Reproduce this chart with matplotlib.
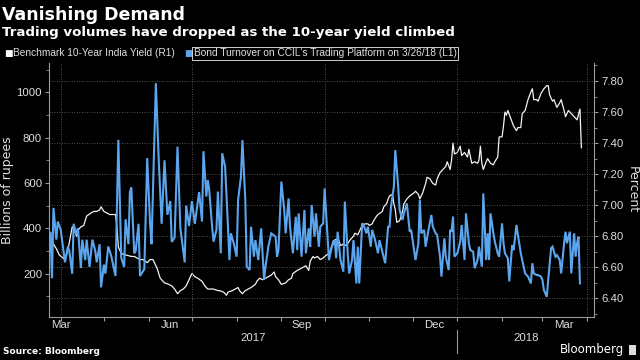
import pandas as pd
import matplotlib.pyplot as plt
import matplotlib.dates as mdates
from matplotlib.ticker import MultipleLocator, NullFormatter, FormatStrFormatter
from matplotlib.transforms import blended_transform_factory
from matplotlib.patches import Rectangle

# bond turnover on CCIL platform, billions of rupees (left axis)
turnover_dates = [
    "2017-03-25", "2017-03-26", "2017-03-27", "2017-03-29", "2017-03-30", "2017-04-01", "2017-04-04",
    "2017-04-06", "2017-04-07", "2017-04-09", "2017-04-10", "2017-04-12", "2017-04-13", "2017-04-15",
    "2017-04-16", "2017-04-18", "2017-04-19", "2017-04-21", "2017-04-23", "2017-04-25", "2017-04-26",
    "2017-04-28", "2017-04-29", "2017-05-01", "2017-05-02", "2017-05-04", "2017-05-06", "2017-05-09",
    "2017-05-11", "2017-05-13", "2017-05-15", "2017-05-16", "2017-05-18", "2017-05-19", "2017-05-20",
    "2017-05-22", "2017-05-23", "2017-05-25", "2017-05-26", "2017-05-29", "2017-05-31", "2017-06-02",
    "2017-06-03", "2017-06-06", "2017-06-08", "2017-06-10", "2017-06-12", "2017-06-14", "2017-06-16",
    "2017-06-17", "2017-06-19", "2017-06-21", "2017-06-23", "2017-06-26", "2017-06-27", "2017-06-29",
    "2017-07-01", "2017-07-03", "2017-07-06", "2017-07-08", "2017-07-09", "2017-07-11", "2017-07-12",
    "2017-07-13", "2017-07-15", "2017-07-16", "2017-07-18", "2017-07-19", "2017-07-21", "2017-07-22",
    "2017-07-24", "2017-07-26", "2017-07-27", "2017-07-28", "2017-07-30", "2017-08-01", "2017-08-02",
    "2017-08-04", "2017-08-05", "2017-08-07", "2017-08-08", "2017-08-10", "2017-08-11", "2017-08-13",
    "2017-08-14", "2017-08-16", "2017-08-18", "2017-08-20", "2017-08-21", "2017-08-23", "2017-08-25",
    "2017-08-28", "2017-08-29", "2017-08-30", "2017-09-01", "2017-09-03", "2017-09-04", "2017-09-06",
    "2017-09-07", "2017-09-09", "2017-09-11", "2017-09-12", "2017-09-13", "2017-09-15", "2017-09-17",
    "2017-09-18", "2017-09-20", "2017-09-21", "2017-09-22", "2017-09-24", "2017-09-25", "2017-09-27",
    "2017-09-28", "2017-09-30", "2017-10-01", "2017-10-03", "2017-10-04", "2017-10-06", "2017-10-08",
    "2017-10-09", "2017-10-10", "2017-10-12", "2017-10-14", "2017-10-15", "2017-10-17", "2017-10-18",
    "2017-10-20", "2017-10-21", "2017-10-23", "2017-10-24", "2017-10-25", "2017-10-27", "2017-10-28",
    "2017-10-30", "2017-10-31", "2017-11-02", "2017-11-03", "2017-11-05", "2017-11-07", "2017-11-08",
    "2017-11-10", "2017-11-12", "2017-11-14", "2017-11-15", "2017-11-16", "2017-11-18", "2017-11-19",
    "2017-11-21", "2017-11-22", "2017-11-24", "2017-11-25", "2017-11-27", "2017-11-29", "2017-11-30",
    "2017-12-03", "2017-12-05", "2017-12-06", "2017-12-07", "2017-12-09", "2017-12-10", "2017-12-12",
    "2017-12-14", "2017-12-15", "2017-12-17", "2017-12-18", "2017-12-20", "2017-12-21", "2017-12-23",
    "2017-12-24", "2017-12-26", "2017-12-27", "2017-12-28", "2017-12-29", "2017-12-30", "2018-01-01",
    "2018-01-03", "2018-01-04", "2018-01-06", "2018-01-07", "2018-01-09", "2018-01-10", "2018-01-12",
    "2018-01-13", "2018-01-15", "2018-01-16", "2018-01-18", "2018-01-19", "2018-01-21", "2018-01-22",
    "2018-01-23", "2018-01-24", "2018-01-26", "2018-01-27", "2018-01-29", "2018-01-30", "2018-02-01",
    "2018-02-02", "2018-02-03", "2018-02-05", "2018-02-06", "2018-02-08", "2018-02-09", "2018-02-11",
    "2018-02-12", "2018-02-14", "2018-02-15", "2018-02-17", "2018-02-19", "2018-02-21", "2018-02-22",
    "2018-02-23", "2018-02-25", "2018-02-26", "2018-02-28", "2018-03-01", "2018-03-02", "2018-03-04",
    "2018-03-05", "2018-03-07", "2018-03-08", "2018-03-10", "2018-03-11", "2018-03-13", "2018-03-14",
    "2018-03-16", "2018-03-17", "2018-03-18", "2018-03-20", "2018-03-21", "2018-03-23", "2018-03-24",
    "2018-03-25", "2018-03-26", "2018-03-27",
]
turnover_bn = [
    380, 180, 490, 350, 430, 395, 250,
    320, 300, 200, 420, 370, 400, 225,
    350, 260, 350, 230, 350, 300, 250,
    330, 140, 240, 200, 320, 280, 190,
    790, 270, 230, 440, 330, 560, 580,
    290, 300, 420, 190, 220, 710, 420,
    330, 1040, 700, 420, 700, 460, 520,
    340, 360, 760, 400, 250, 500, 410,
    520, 420, 560, 430, 740, 540, 613,
    569, 407, 341, 393, 562, 290, 731,
    672, 407, 260, 378, 334, 275, 525,
    628, 789, 525, 231, 216, 407, 275,
    348, 260, 400, 172, 231, 319, 378,
    363, 275, 304, 606, 481, 378, 532,
    407, 290, 451, 304, 466, 275, 481,
    290, 400, 319, 503, 363, 466, 319,
    407, 422, 576, 363, 260, 319, 348,
    268, 385, 260, 209, 518, 290, 201,
    260, 348, 157, 319, 157, 422, 415,
    378, 407, 319, 393, 348, 290, 348,
    297, 246, 407, 407, 495, 584, 745,
    584, 481, 437, 466, 510, 385, 393,
    260, 334, 525, 378, 393, 319, 393,
    459, 407, 378, 371, 275, 187, 356,
    275, 216, 393, 385, 451, 275, 290,
    341, 415, 260, 466, 334, 304, 297,
    224, 260, 319, 231, 554, 260, 378,
    260, 466, 378, 341, 290, 275, 422,
    334, 290, 268, 166, 326, 304, 415,
    371, 290, 260, 201, 187, 157, 246,
    201, 194, 194, 187, 172, 128, 98,
    172, 312, 319, 275, 282, 260, 201,
    334, 385, 334, 385, 201, 378, 275,
    334, 363, 157,
]

# benchmark 10-year India yield, percent (right axis)
yield_dates = [
    "2017-03-25", "2017-03-27", "2017-03-29", "2017-03-31", "2017-04-04", "2017-04-06", "2017-04-09",
    "2017-04-10", "2017-04-12", "2017-04-13", "2017-04-15", "2017-04-17", "2017-04-19", "2017-04-22",
    "2017-04-24", "2017-04-26", "2017-04-28", "2017-04-29", "2017-05-01", "2017-05-03", "2017-05-05",
    "2017-05-07", "2017-05-09", "2017-05-10", "2017-05-11", "2017-05-13", "2017-05-16", "2017-05-20",
    "2017-05-22", "2017-05-26", "2017-05-28", "2017-05-31", "2017-06-02", "2017-06-04", "2017-06-07",
    "2017-06-09", "2017-06-12", "2017-06-15", "2017-06-17", "2017-06-19", "2017-06-21", "2017-06-23",
    "2017-06-25", "2017-06-27", "2017-06-29", "2017-07-01", "2017-07-03", "2017-07-05", "2017-07-08",
    "2017-07-10", "2017-07-12", "2017-07-16", "2017-07-19", "2017-07-20", "2017-07-23", "2017-07-25",
    "2017-07-26", "2017-07-29", "2017-07-31", "2017-08-02", "2017-08-03", "2017-08-05", "2017-08-07",
    "2017-08-09", "2017-08-11", "2017-08-14", "2017-08-15", "2017-08-17", "2017-08-19", "2017-08-21",
    "2017-08-23", "2017-08-25", "2017-08-27", "2017-08-28", "2017-08-30", "2017-09-01", "2017-09-04",
    "2017-09-06", "2017-09-08", "2017-09-09", "2017-09-12", "2017-09-14", "2017-09-16", "2017-09-18",
    "2017-09-20", "2017-09-21", "2017-09-23", "2017-09-24", "2017-09-26", "2017-09-28", "2017-09-30",
    "2017-10-01", "2017-10-04", "2017-10-05", "2017-10-07", "2017-10-09", "2017-10-11", "2017-10-12",
    "2017-10-14", "2017-10-16", "2017-10-19", "2017-10-21", "2017-10-22", "2017-10-24", "2017-10-26",
    "2017-10-27", "2017-10-29", "2017-10-31", "2017-11-01", "2017-11-03", "2017-11-04", "2017-11-06",
    "2017-11-07", "2017-11-10", "2017-11-11", "2017-11-13", "2017-11-14", "2017-11-15", "2017-11-17",
    "2017-11-18", "2017-11-19", "2017-11-20", "2017-11-22", "2017-11-24", "2017-11-25", "2017-11-27",
    "2017-11-29", "2017-12-02", "2017-12-03", "2017-12-05", "2017-12-06", "2017-12-08", "2017-12-10",
    "2017-12-11", "2017-12-13", "2017-12-15", "2017-12-17", "2017-12-18", "2017-12-20", "2017-12-22",
    "2017-12-24", "2017-12-25", "2017-12-27", "2017-12-28", "2017-12-29", "2017-12-30", "2018-01-01",
    "2018-01-03", "2018-01-04", "2018-01-06", "2018-01-08", "2018-01-09", "2018-01-11", "2018-01-13",
    "2018-01-15", "2018-01-16", "2018-01-17", "2018-01-18", "2018-01-19", "2018-01-21", "2018-01-22",
    "2018-01-24", "2018-01-26", "2018-01-27", "2018-01-29", "2018-01-30", "2018-02-01", "2018-02-02",
    "2018-02-03", "2018-02-04", "2018-02-05", "2018-02-07", "2018-02-09", "2018-02-11", "2018-02-12",
    "2018-02-14", "2018-02-15", "2018-02-17", "2018-02-19", "2018-02-21", "2018-02-22", "2018-02-23",
    "2018-02-25", "2018-02-26", "2018-02-28", "2018-03-02", "2018-03-04", "2018-03-05", "2018-03-06",
    "2018-03-08", "2018-03-09", "2018-03-11", "2018-03-13", "2018-03-14", "2018-03-16", "2018-03-17",
    "2018-03-19", "2018-03-21", "2018-03-22", "2018-03-24", "2018-03-25", "2018-03-27", "2018-03-28",
]
yield_pct = [
    6.71, 6.75, 6.72, 6.68, 6.65, 6.71, 6.86,
    6.85, 6.80, 6.84, 6.86, 6.87, 6.93, 6.95,
    6.96, 6.96, 6.97, 6.99, 6.96, 6.95, 6.94,
    6.94, 6.94, 6.86, 6.73, 6.69, 6.68, 6.67,
    6.67, 6.65, 6.65, 6.63, 6.65, 6.65, 6.59,
    6.53, 6.50, 6.49, 6.48, 6.46, 6.43, 6.45,
    6.46, 6.48, 6.52, 6.56, 6.54, 6.53, 6.51,
    6.48, 6.46, 6.46, 6.45, 6.45, 6.44, 6.42,
    6.44, 6.45, 6.46, 6.47, 6.45, 6.43, 6.45,
    6.46, 6.47, 6.49, 6.51, 6.53, 6.52, 6.53,
    6.54, 6.55, 6.57, 6.54, 6.52, 6.49, 6.50,
    6.52, 6.53, 6.56, 6.58, 6.59, 6.60, 6.61,
    6.58, 6.64, 6.67, 6.66, 6.67, 6.65, 6.66,
    6.67, 6.69, 6.71, 6.77, 6.78, 6.77, 6.74,
    6.75, 6.74, 6.78, 6.80, 6.82, 6.81, 6.85,
    6.87, 6.88, 6.88, 6.87, 6.88, 6.90, 6.93,
    6.94, 6.96, 6.99, 7.01, 7.04, 7.06, 7.07,
    7.01, 6.97, 6.89, 6.90, 6.96, 7.01, 7.04,
    7.06, 7.08, 7.09, 7.07, 7.04, 7.08, 7.14,
    7.18, 7.17, 7.14, 7.13, 7.17, 7.21, 7.23,
    7.25, 7.28, 7.23, 7.29, 7.40, 7.33, 7.34,
    7.38, 7.32, 7.34, 7.31, 7.36, 7.27, 7.28,
    7.27, 7.29, 7.38, 7.27, 7.23, 7.28, 7.30,
    7.27, 7.26, 7.28, 7.31, 7.44, 7.44, 7.51,
    7.60, 7.58, 7.61, 7.56, 7.51, 7.48, 7.50,
    7.50, 7.59, 7.61, 7.68, 7.73, 7.75, 7.68,
    7.68, 7.67, 7.72, 7.75, 7.77, 7.77, 7.71,
    7.67, 7.68, 7.63, 7.66, 7.68, 7.61, 7.57,
    7.61, 7.59, 7.58, 7.56, 7.55, 7.62, 7.37,
]

month_labels = ["Mar", "Jun", "Sep", "Dec", "Mar"]
month_label_dates = ["2017-04-01", "2017-06-16", "2017-09-15", "2017-12-16", "2018-03-16"]
year_labels = ["2017", "2018"]
quarter_starts = ["2017-04-01", "2017-07-01", "2017-10-01", "2018-01-01", "2018-04-01"]

BG = "black"
BLUE = "#5aa5ee"
WHITE = "#f2f2f2"
GRID = "#6a6a6a"
AXC = "#9a9a9a"
TXT = "#dedede"
narrow = ["Liberation Sans", "DejaVu Sans"]
dotted = (0, (1, 2))

fig = plt.figure(figsize=(6.4, 3.6), dpi=100, facecolor=BG)
ax = fig.add_axes([49 / 640, 43 / 360, 545 / 640, 254 / 360])
ax2 = ax.twinx()
ax.set_zorder(ax2.get_zorder() + 1)
ax.patch.set_visible(False)
ax2.patch.set_visible(False)

ax2.plot(pd.to_datetime(yield_dates), yield_pct, color=WHITE, lw=0.9)
ax.plot(pd.to_datetime(turnover_dates), turnover_bn, color=BLUE, lw=1.5, solid_joinstyle="miter")

x0 = pd.Timestamp("2017-03-23 22:00")
x1 = pd.Timestamp("2018-04-05 18:00")
ax.set_xlim(x0, x1)
ax.set_ylim(9, 1129)
ax2.set_ylim(6.28, 7.916)

# grid follows the right axis, vertical lines at quarter starts
ax2.yaxis.set_major_locator(MultipleLocator(0.2))
ax2.yaxis.set_minor_locator(MultipleLocator(0.1))
ax2.yaxis.set_major_formatter(FormatStrFormatter("%.2f"))
ax2.grid(axis="y", color=GRID, ls=dotted, lw=0.6)
for d in quarter_starts:
    ax2.axvline(pd.Timestamp(d), color=GRID, ls=dotted, lw=0.6)

ax.yaxis.set_major_locator(MultipleLocator(200))
ax.yaxis.set_minor_locator(MultipleLocator(100))

ax.xaxis.remove_overlapping_locs = False
ax.xaxis.set_major_locator(mdates.MonthLocator())
ax.xaxis.set_major_formatter(NullFormatter())
ax.set_xticks(pd.to_datetime(month_label_dates), labels=month_labels, minor=True)

for a in (ax, ax2):
    a.tick_params(axis="y", which="major", colors=AXC, labelcolor=TXT, length=3, width=0.8,
                  labelsize=8.2, pad=2)
    a.tick_params(axis="y", which="minor", colors=AXC, length=2, width=0.6)
ax.tick_params(axis="x", which="major", colors=AXC, length=3, width=0.8)
ax.tick_params(axis="x", which="minor", length=0, labelcolor=TXT, labelsize=8.2, pad=2.5)
for lab in ax.get_yticklabels() + ax2.get_yticklabels() + ax.get_xticklabels(minor=True):
    lab.set_fontfamily(narrow)

for s in ("top", "right"):
    ax.spines[s].set_visible(False)
for s in ("top", "left", "bottom"):
    ax2.spines[s].set_visible(False)
for sp in (ax.spines["left"], ax.spines["bottom"], ax2.spines["right"]):
    sp.set_color(AXC)
    sp.set_linewidth(0.8)

# year row under the month labels
trans = blended_transform_factory(ax.transData, ax.transAxes)
jan1 = pd.Timestamp("2018-01-01")
ax.plot([jan1, jan1], [-0.05, -0.14], transform=trans, clip_on=False, color=AXC, lw=0.8)
for lab, (a, b) in zip(year_labels, [(x0, jan1), (jan1, x1)]):
    ax.text(a + (b - a) / 2, -0.081, lab, transform=trans, ha="center", va="center",
            color=TXT, fontsize=8.2, family=narrow)

fig.text(8 / 640, 1 - 190 / 360, "Billions of rupees", rotation=90, ha="center", va="center",
         color=TXT, fontsize=9)
fig.text(632 / 640, 1 - 190 / 360, "Percent", rotation=270, ha="center", va="center",
         color=TXT, fontsize=9)

fig.text(2 / 640, 1 - 19.5 / 360, "Vanishing Demand", color="white", fontsize=12.5,
         weight="bold", va="baseline")
fig.text(2 / 640, 1 - 36 / 360, "Trading volumes have dropped as the 10-year yield climbed",
         color="white", fontsize=9.6, weight="bold", va="baseline")

fig.text(4 / 640, 1 - 53.5 / 360, "\u25a0", color="white", fontsize=6.5, va="center")
fig.text(13 / 640, 1 - 53.5 / 360, "Benchmark 10-Year India Yield (R1)", color=TXT,
         fontsize=7.25, va="center", family=narrow)
fig.text(184 / 640, 1 - 53.5 / 360, "\u25a0", color=BLUE, fontsize=6.5, va="center")
fig.text(194 / 640, 1 - 53.5 / 360, "Bond Turnover on CCIL's Trading Platform on 3/26/18 (L1)",
         color=TXT, fontsize=7.25, va="center", family=narrow,
         bbox=dict(boxstyle="square,pad=0.15", fc="none", ec="#cfcfcf", lw=0.7))

fig.text(3 / 640, 1 - 352 / 360, "Source: Bloomberg", color="white", fontsize=6.5,
         weight="bold", va="center")
fig.text(624 / 640, 1 - 350 / 360, "Bloomberg", color="white", fontsize=8.5, ha="right",
         va="center")
fig.patches.append(Rectangle((629 / 640, 1 - 355 / 360), 7 / 640, 10 / 360, transform=fig.transFigure,
                             fc="#dddddd", ec="none"))

fig.savefig("out.png", dpi=100, facecolor=BG)
